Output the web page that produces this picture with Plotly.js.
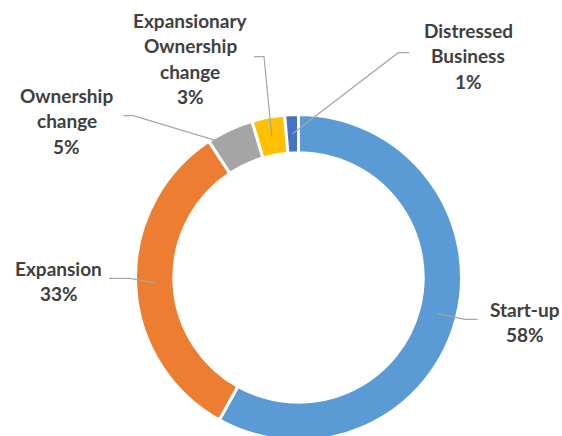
<!DOCTYPE html>
<html>
<head>
<meta charset="utf-8">
<script src="https://cdn.plot.ly/plotly-3.0.1.min.js"></script>
<style>
html,body{margin:0;padding:0;overflow:hidden;background:#fff;}
#chart{width:562px;height:445px;}
</style>
</head>
<body>
<div id="chart"></div>
<script>
// ---- data ----
const categories = ['Start-up', 'Expansion', 'Ownership change', 'Expansionary Ownership change', 'Distressed Business'];
const shares = [58.1, 32.65, 4.67, 3.25, 1.35];
const labelLines = [
  ['Start-up'],
  ['Expansion'],
  ['Ownership', 'change'],
  ['Expansionary', 'Ownership', 'change'],
  ['Distressed', 'Business']
];
const colors = ['#5B9BD5', '#ED7D31', '#A5A5A5', '#FFC000', '#4472C4'];

// ---- layout geometry (pixels) ----
const W = 562, H = 445;
const cx = 298.5, cy = 277.5, R = 163, holeFrac = 0.765;
const px = x => x / W;
const py = y => 1 - y / H;

// label placement: text centre x, first line y, leader elbow points
const labelPos = [
  {x: 524.7, y: 309.5, path: [[477.5, 319.3], [465, 319.3]]},
  {x: 58.8,  y: 268.5, path: [[109, 278.3], [130, 278.3]]},
  {x: 66.7,  y: 95.5,  path: [[123.3, 115.7], [133.3, 115.7]]},
  {x: 190,   y: 20.5,  path: [[254, 56.7], [264, 56.7]]},
  {x: 468.3, y: 30.5,  path: [[409.3, 52.7], [398.3, 52.7]]}
];
const lineGap = 25.4;

const total = shares.reduce((a, b) => a + b, 0);
const annotations = [];
const shapes = [];
let cum = 0;
shares.forEach((v, i) => {
  const mid = (cum + v / 2) / total * 2 * Math.PI;
  cum += v;
  const pct = Math.round(v / total * 100) + '%';
  const lines = labelLines[i].concat([pct]);
  const lp = labelPos[i];
  lines.forEach((t, k) => {
    annotations.push({
      text: t, showarrow: false, xref: 'paper', yref: 'paper',
      x: px(lp.x), y: py(lp.y + k * lineGap), xanchor: 'center', yanchor: 'middle',
      font: {family: 'Lato, "Open Sans", sans-serif', size: 19, weight: 'bold', color: '#404040'}
    });
  });
  const rm = R * (1 + holeFrac) / 2;
  const ex = cx + rm * Math.sin(mid), ey = cy - rm * Math.cos(mid);
  const pts = lp.path.concat([[ex, ey]]);
  const d = 'M ' + pts.map(p => px(p[0]) + ',' + py(p[1])).join(' L ');
  shapes.push({type: 'path', xref: 'paper', yref: 'paper', path: d,
    line: {color: '#A6A6A6', width: 1.2}});
});

const trace = {
  type: 'pie',
  labels: categories,
  values: shares,
  hole: holeFrac,
  sort: false,
  direction: 'clockwise',
  rotation: 0,
  textinfo: 'none',
  hoverinfo: 'label+percent',
  marker: {colors: colors, line: {color: '#FFFFFF', width: 3}},
  domain: {x: [px(cx - R), px(cx + R)], y: [py(cy + R), py(cy - R)]},
  showlegend: false
};

const layout = {
  width: W, height: H,
  margin: {l: 0, r: 0, t: 0, b: 0},
  paper_bgcolor: '#FFFFFF',
  plot_bgcolor: '#FFFFFF',
  showlegend: false,
  annotations: annotations,
  shapes: shapes
};

Plotly.newPlot('chart', [trace], layout, {displayModeBar: false, staticPlot: true});
</script>
</body>
</html>
